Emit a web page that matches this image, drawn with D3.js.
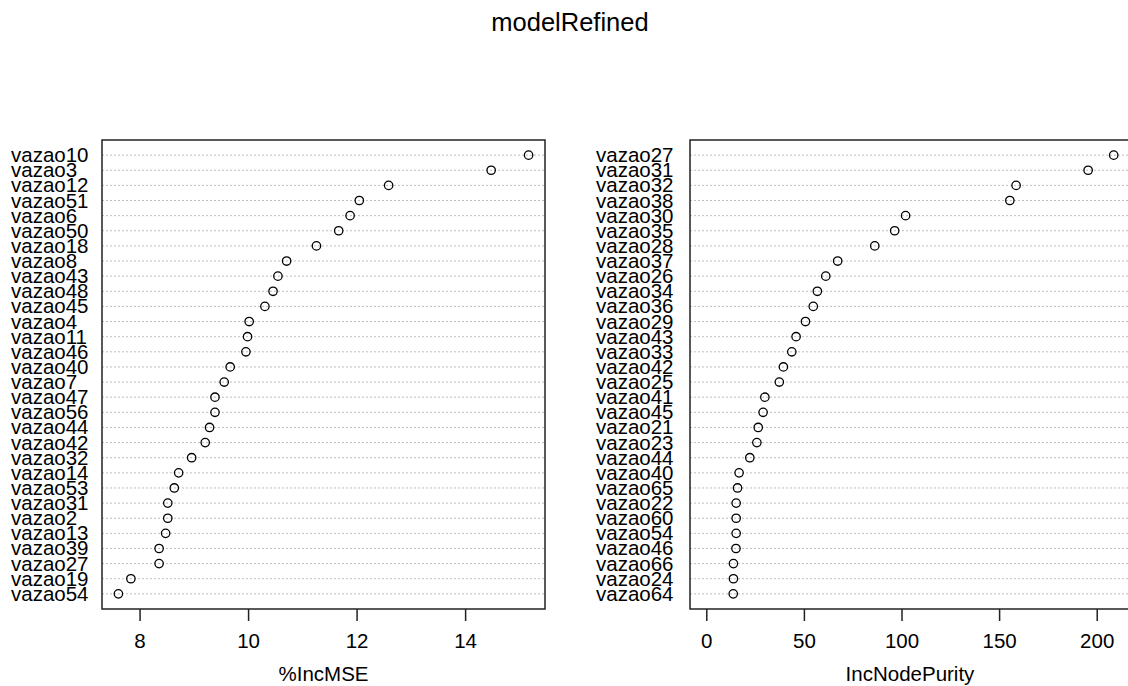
<!DOCTYPE html>
<html>
<head>
<meta charset="utf-8">
<script src="https://cdn.jsdelivr.net/npm/d3@7"></script>
<style>
  html, body { margin: 0; padding: 0; background: #fff; overflow: hidden; }
  text { font-family: "Liberation Sans", Arial, sans-serif; fill: #000; }
</style>
</head>
<body>
<svg id="chart" width="1128" height="686"></svg>
<script>
const chartTitle = "modelRefined";

const mseNames = ["vazao10","vazao3","vazao12","vazao51","vazao6","vazao50","vazao18","vazao8","vazao43","vazao48","vazao45","vazao4","vazao11","vazao46","vazao40","vazao7","vazao47","vazao56","vazao44","vazao42","vazao32","vazao14","vazao53","vazao31","vazao2","vazao13","vazao39","vazao27","vazao19","vazao54"];
const mseValues = [15.17,14.48,12.59,12.05,11.88,11.67,11.26,10.71,10.55,10.46,10.31,10.02,9.99,9.96,9.67,9.56,9.39,9.39,9.29,9.21,8.96,8.72,8.64,8.52,8.52,8.48,8.36,8.36,7.84,7.61];
const mseTicks = [8, 10, 12, 14];
const mseLabel = "%IncMSE";

const npNames = ["vazao27","vazao31","vazao32","vazao38","vazao30","vazao35","vazao28","vazao37","vazao26","vazao34","vazao36","vazao29","vazao43","vazao33","vazao42","vazao25","vazao41","vazao45","vazao21","vazao23","vazao44","vazao40","vazao65","vazao22","vazao60","vazao54","vazao46","vazao66","vazao24","vazao64"];
const npValues = [208.7,195.6,158.7,155.5,102.1,96.5,86.3,67.3,61.2,56.9,54.8,50.8,46.0,43.8,39.5,37.4,30.0,29.1,26.6,25.9,22.3,16.8,16.0,15.3,15.3,15.3,15.2,13.9,13.9,13.8];
const npTicks = [0, 50, 100, 150, 200];
const npLabel = "IncNodePurity";

const svg = d3.select("#chart");
const plotTop = 140, plotBottom = 609;

svg.append("text")
  .attr("x", 570).attr("y", 31)
  .attr("text-anchor", "middle")
  .style("font-size", "25.5px")
  .text(chartTitle);

function panel(names, values, ticks, xlab, left, right, labelX, xmin) {
  const n = names.length;
  const lo = xmin !== undefined ? xmin : d3.min(values);
  const hi = d3.max(values);
  const pad = (hi - lo) * 0.04;
  const x = d3.scaleLinear().domain([lo - pad, hi + pad]).range([left, right]);
  const y = d3.scaleLinear().domain([0, n + 1]).range([plotBottom, plotTop]);
  const g = svg.append("g");
  const rows = names.map((nm, i) => ({ name: nm, value: values[i], pos: n - i }));

  const clipId = "clip" + left;
  svg.append("clipPath").attr("id", clipId)
    .append("rect").attr("x", left).attr("y", plotTop).attr("width", right - left).attr("height", plotBottom - plotTop);

  g.append("g").attr("clip-path", `url(#${clipId})`)
    .selectAll("line.grid").data(rows).enter().append("line")
    .attr("x1", left).attr("x2", right)
    .attr("y1", d => y(d.pos)).attr("y2", d => y(d.pos))
    .attr("stroke", "#bebebe").attr("stroke-width", 1)
    .attr("stroke-dasharray", "2,2");

  g.selectAll("circle").data(rows).enter().append("circle")
    .attr("cx", d => x(d.value)).attr("cy", d => y(d.pos))
    .attr("r", 4.2).attr("fill", "none")
    .attr("stroke", "#000").attr("stroke-width", 1.3);

  g.selectAll("text.lab").data(rows).enter().append("text")
    .attr("class", "lab")
    .attr("x", labelX).attr("y", d => y(d.pos) + 7)
    .style("font-size", "20.5px")
    .text(d => d.name);

  g.append("rect")
    .attr("x", left).attr("y", plotTop)
    .attr("width", right - left).attr("height", plotBottom - plotTop)
    .attr("fill", "none").attr("stroke", "#222").attr("stroke-width", 1.5);

  const axis = d3.axisBottom(x).tickValues(ticks).tickSize(12).tickPadding(12)
    .tickFormat(d3.format("d"));
  const ag = g.append("g").attr("transform", `translate(0,${plotBottom})`).call(axis);
  ag.select(".domain").remove();
  ag.selectAll(".tick line").attr("stroke", "#222").attr("stroke-width", 1.5);
  ag.selectAll(".tick text").style("font-size", "20.5px").attr("fill", "#000")
    .attr("font-family", "Liberation Sans, Arial, sans-serif");

  g.append("text")
    .attr("x", (left + right) / 2).attr("y", 681)
    .attr("text-anchor", "middle")
    .style("font-size", "20.5px")
    .text(xlab);
}

panel(mseNames, mseValues, mseTicks, mseLabel, 102, 545, 11, undefined);
panel(npNames, npValues, npTicks, npLabel, 690, 1130, 596, 0);
</script>
</body>
</html>
